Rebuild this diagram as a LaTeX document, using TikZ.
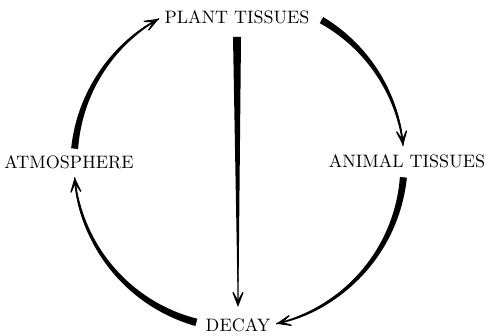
\documentclass[tikz,border=0pt]{standalone}
\usepackage{tikz}
\usetikzlibrary{arrows.meta, calc}

\newcommand{\cycr}{165}
% tapered arc round (c): angle #1 to #2, width #3 to #4
\newcommand{\taperarc}[4]{%
  \fill[shift={(c)}]
    plot[domain=#1:#2, samples=40] (\x:{\cycr+(#3+(#4-(#3))*(\x-(#1))/((#2)-(#1)))/2})
    -- plot[domain=#2:#1, samples=40] (\x:{\cycr-(#3+(#4-(#3))*(\x-(#1))/((#2)-(#1)))/2})
    -- cycle;}

\begin{document}
\begin{tikzpicture}[x = 1pt, y = 1pt]
  \tikzset{cyclabel/.style = {inner sep = 0pt, scale = 1.8, font = \fontsize{10}{12}\selectfont},
    arrowarc/.style = {line width = 1.2pt, -{Stealth[length = 22pt, width = 17pt, inset = 15pt]}}}
  \useasboundingbox (0,0) rectangle (486,336);
  \coordinate (c) at (239,173);

  \node[cyclabel] (plant) at (237,319) {PLANT TISSUES};
  \node[cyclabel] (animal) at (407,175) {ANIMAL TISSUES};
  \node[cyclabel] (decay) at (238,11) {DECAY};
  \node[cyclabel] (atmos) at (69,174) {ATMOSPHERE};

  % round the cycle
  \draw[arrowarc] (c) ++(175:\cycr) arc[start angle = 175, end angle = 119, radius = \cycr];
  \taperarc{175}{119}{7}{1.2}
  \draw[arrowarc] (c) ++(60:\cycr) arc[start angle = 60, end angle = 6, radius = \cycr];
  \taperarc{60}{6}{7}{1.2}
  \draw[arrowarc] (c) ++(-5:\cycr) arc[start angle = -5, end angle = -77, radius = \cycr];
  \taperarc{-5}{-77}{7}{1.2}
  \draw[arrowarc] (c) ++(255:\cycr) arc[start angle = 255, end angle = 185, radius = \cycr];
  \taperarc{255}{185}{7.5}{1.2}

  % straight down
  \draw[arrowarc] ($(plant.south)+(0,-13)$) coordinate (v0) -- ($(decay.north)+(0,11)$) coordinate (v1);
  \fill ($(v0)+(-4,0)$) -- ($(v0)+(4,0)$) -- ($(v1)+(0.6,25)$) -- ($(v1)+(-0.6,25)$) -- cycle;
\end{tikzpicture}
\end{document}
